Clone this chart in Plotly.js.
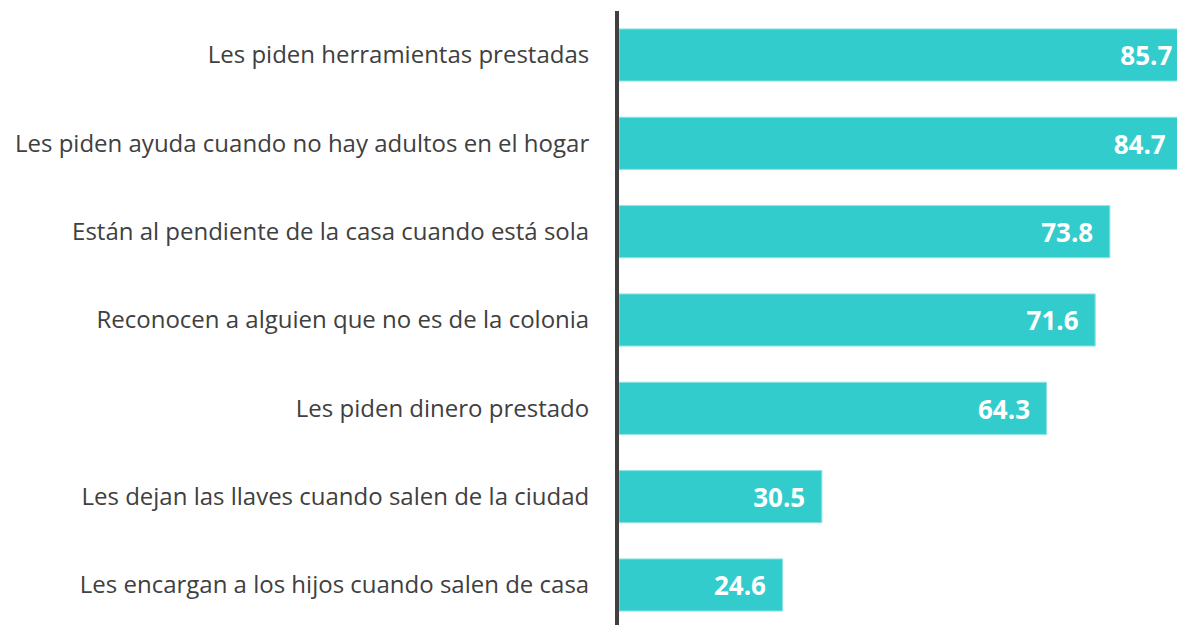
<!DOCTYPE html>
<html>
<head>
<meta charset="utf-8">
<script src="https://cdn.plot.ly/plotly-3.0.1.min.js"></script>
<style>html,body{margin:0;padding:0;background:#fff;}#chart{width:1177px;height:625px;}</style>
</head>
<body>
<div id="chart"></div>
<script>
const categories = [
  "Les piden herramientas prestadas",
  "Les piden ayuda cuando no hay adultos en el hogar",
  "Están al pendiente de la casa cuando está sola",
  "Reconocen a alguien que no es de la colonia",
  "Les piden dinero prestado",
  "Les dejan las llaves cuando salen de la ciudad",
  "Les encargan a los hijos cuando salen de casa"
];
const values = [85.7, 84.7, 73.8, 71.6, 64.3, 30.5, 24.6];
const valueLabels = values.map(v => v.toFixed(1));

const bars = {
  type: 'bar',
  orientation: 'h',
  x: values,
  y: categories,
  width: 0.59,
  marker: {color: '#33CCCC', line: {color: '#8EE3E3', width: 1}},
  hoverinfo: 'none',
  cliponaxis: true
};

const labels = {
  type: 'scatter',
  mode: 'markers+text',
  x: values,
  y: categories,
  yaxis: 'y2',
  text: valueLabels,
  textposition: 'middle left',
  marker: {size: 25, opacity: 0, color: '#33CCCC'},
  textfont: {family: 'Open Sans, sans-serif', size: 26, color: '#ffffff', weight: 'bold'},
  hoverinfo: 'none',
  cliponaxis: true
};

const layout = {
  width: 1177, height: 625,
  margin: {l: 619, r: 0, t: 11, b: 0, pad: 0},
  paper_bgcolor: '#ffffff', plot_bgcolor: '#ffffff',
  showlegend: false,
  xaxis: {range: [0, 83.9], visible: false, showgrid: false, zeroline: false, fixedrange: true},
  yaxis: {
    type: 'category',
    categoryarray: categories,
    range: [6.453, -0.498],
    showline: true, linecolor: '#404040', linewidth: 4,
    showgrid: false, zeroline: false, ticks: '',
    ticklabelstandoff: 21,
    tickfont: {family: 'Open Sans, sans-serif', size: 24, color: '#404040'}
  },
  yaxis2: {
    type: 'category',
    categoryarray: categories,
    overlaying: 'y',
    range: [6.408, -0.543],
    visible: false, showgrid: false, zeroline: false
  }
};

Plotly.newPlot('chart', [bars, labels], layout, {displayModeBar: false, staticPlot: true});
</script>
</body>
</html>
